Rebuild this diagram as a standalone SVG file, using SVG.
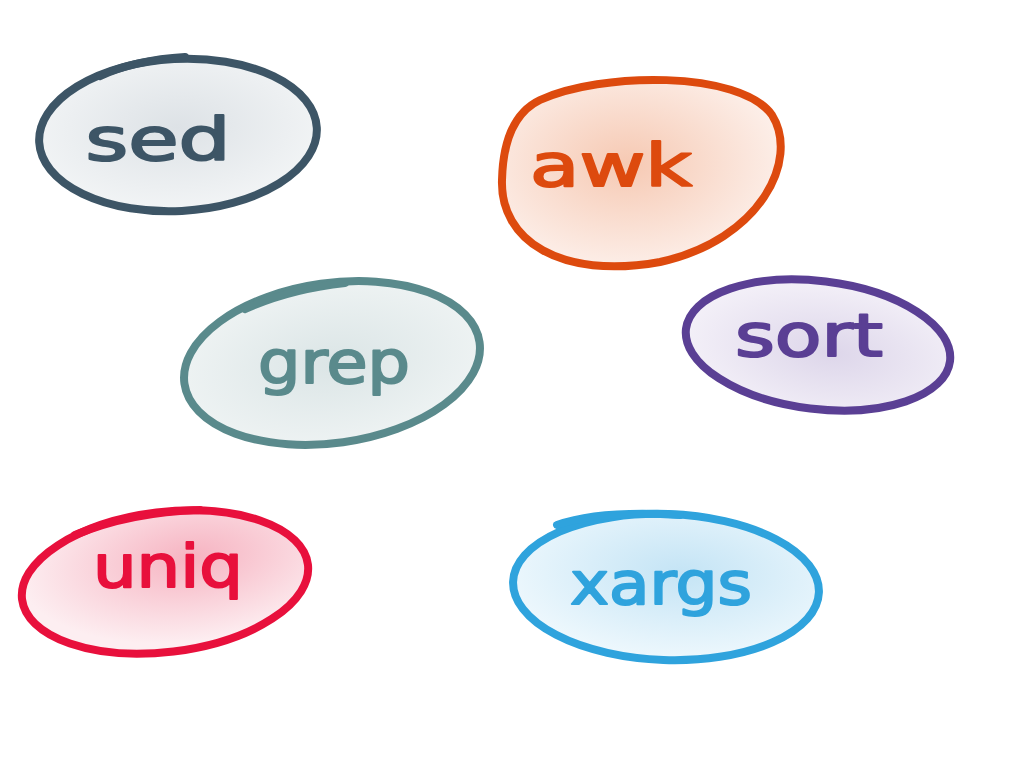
<svg xmlns="http://www.w3.org/2000/svg" width="1024" height="768" viewBox="0 0 1024 768">
<defs>
<radialGradient id="gSed" cx="0.5" cy="0.45" r="0.6"><stop offset="0" stop-color="#dde2e6"/><stop offset="1" stop-color="#f4f6f7"/></radialGradient>
<radialGradient id="gAwk" cx="0.45" cy="0.45" r="0.6"><stop offset="0" stop-color="#f6c9b3"/><stop offset="1" stop-color="#fdf1ec"/></radialGradient>
<radialGradient id="gGrep" cx="0.5" cy="0.5" r="0.6"><stop offset="0" stop-color="#dbe5e6"/><stop offset="1" stop-color="#f1f5f5"/></radialGradient>
<radialGradient id="gSort" cx="0.55" cy="0.55" r="0.6"><stop offset="0" stop-color="#ddd6ea"/><stop offset="1" stop-color="#f5f2f9"/></radialGradient>
<radialGradient id="gUniq" cx="0.6" cy="0.35" r="0.6"><stop offset="0" stop-color="#f6b3c1"/><stop offset="1" stop-color="#fdeef1"/></radialGradient>
<radialGradient id="gXargs" cx="0.55" cy="0.4" r="0.6"><stop offset="0" stop-color="#c4e4f5"/><stop offset="1" stop-color="#eef8fd"/></radialGradient>
</defs>
<style>
.ring{stroke-width:8;stroke-linecap:round}
.tail{fill:none;stroke-width:8;stroke-linecap:round}
.lbl{font-family:"DejaVu Sans",sans-serif;font-size:58px;text-anchor:middle;stroke-width:2;stroke-linejoin:round}
</style>
<rect width="1024" height="768" fill="#ffffff"/>
<g id="connectors"/>
<g id="sed">
<ellipse class="ring" cx="178" cy="135" rx="139" ry="76" fill="url(#gSed)" stroke="#3d5566" transform="rotate(-3 178 135)"/>
<path class="tail" d="M100 76 Q135 60 185 57" stroke="#3d5566"/>
<text class="lbl" x="158" y="160" fill="#3d5566" stroke="#3d5566" textLength="145" lengthAdjust="spacingAndGlyphs">sed</text>
</g>
<g id="awk">
<path class="ring" d="M540 100 C600 72 740 70 772 115 C800 160 760 240 660 262 C560 280 500 240 502 180 C503 140 515 112 540 100 Z" fill="url(#gAwk)" stroke="#dd4a0e"/>
<text class="lbl" x="611" y="186" fill="#dd4a0e" stroke="#dd4a0e" textLength="162" lengthAdjust="spacingAndGlyphs">awk</text>
</g>
<g id="grep">
<ellipse class="ring" cx="332" cy="363" rx="149" ry="80" fill="url(#gGrep)" stroke="#5a8a8c" transform="rotate(-8 332 363)"/>
<path class="tail" d="M245 309 Q290 289 345 283" stroke="#5a8a8c"/>
<text class="lbl" x="334" y="383" fill="#5a8a8c" stroke="#5a8a8c" textLength="152" lengthAdjust="spacingAndGlyphs">grep</text>
</g>
<g id="sort">
<ellipse class="ring" cx="818" cy="345" rx="133" ry="64" fill="url(#gSort)" stroke="#5a3f94" transform="rotate(7 818 345)"/>
<text class="lbl" x="809" y="356" fill="#5a3f94" stroke="#5a3f94" textLength="148" lengthAdjust="spacingAndGlyphs">sort</text>
</g>
<g id="uniq">
<ellipse class="ring" cx="165" cy="582" rx="144" ry="70" fill="url(#gUniq)" stroke="#e8103c" transform="rotate(-7 165 582)"/>
<path class="tail" d="M75 535 Q130 512 200 510" stroke="#e8103c"/>
<text class="lbl" x="168" y="587" fill="#e8103c" stroke="#e8103c" textLength="150" lengthAdjust="spacingAndGlyphs">uniq</text>
</g>
<g id="xargs">
<ellipse class="ring" cx="666" cy="587" rx="153" ry="73" fill="url(#gXargs)" stroke="#2fa3dd" transform="rotate(2 666 587)"/>
<path class="tail" d="M557 525 Q600 510 680 515" stroke="#2fa3dd"/>
<text class="lbl" x="661" y="604" fill="#2fa3dd" stroke="#2fa3dd" textLength="182" lengthAdjust="spacingAndGlyphs">xargs</text>
</g>
</svg>
